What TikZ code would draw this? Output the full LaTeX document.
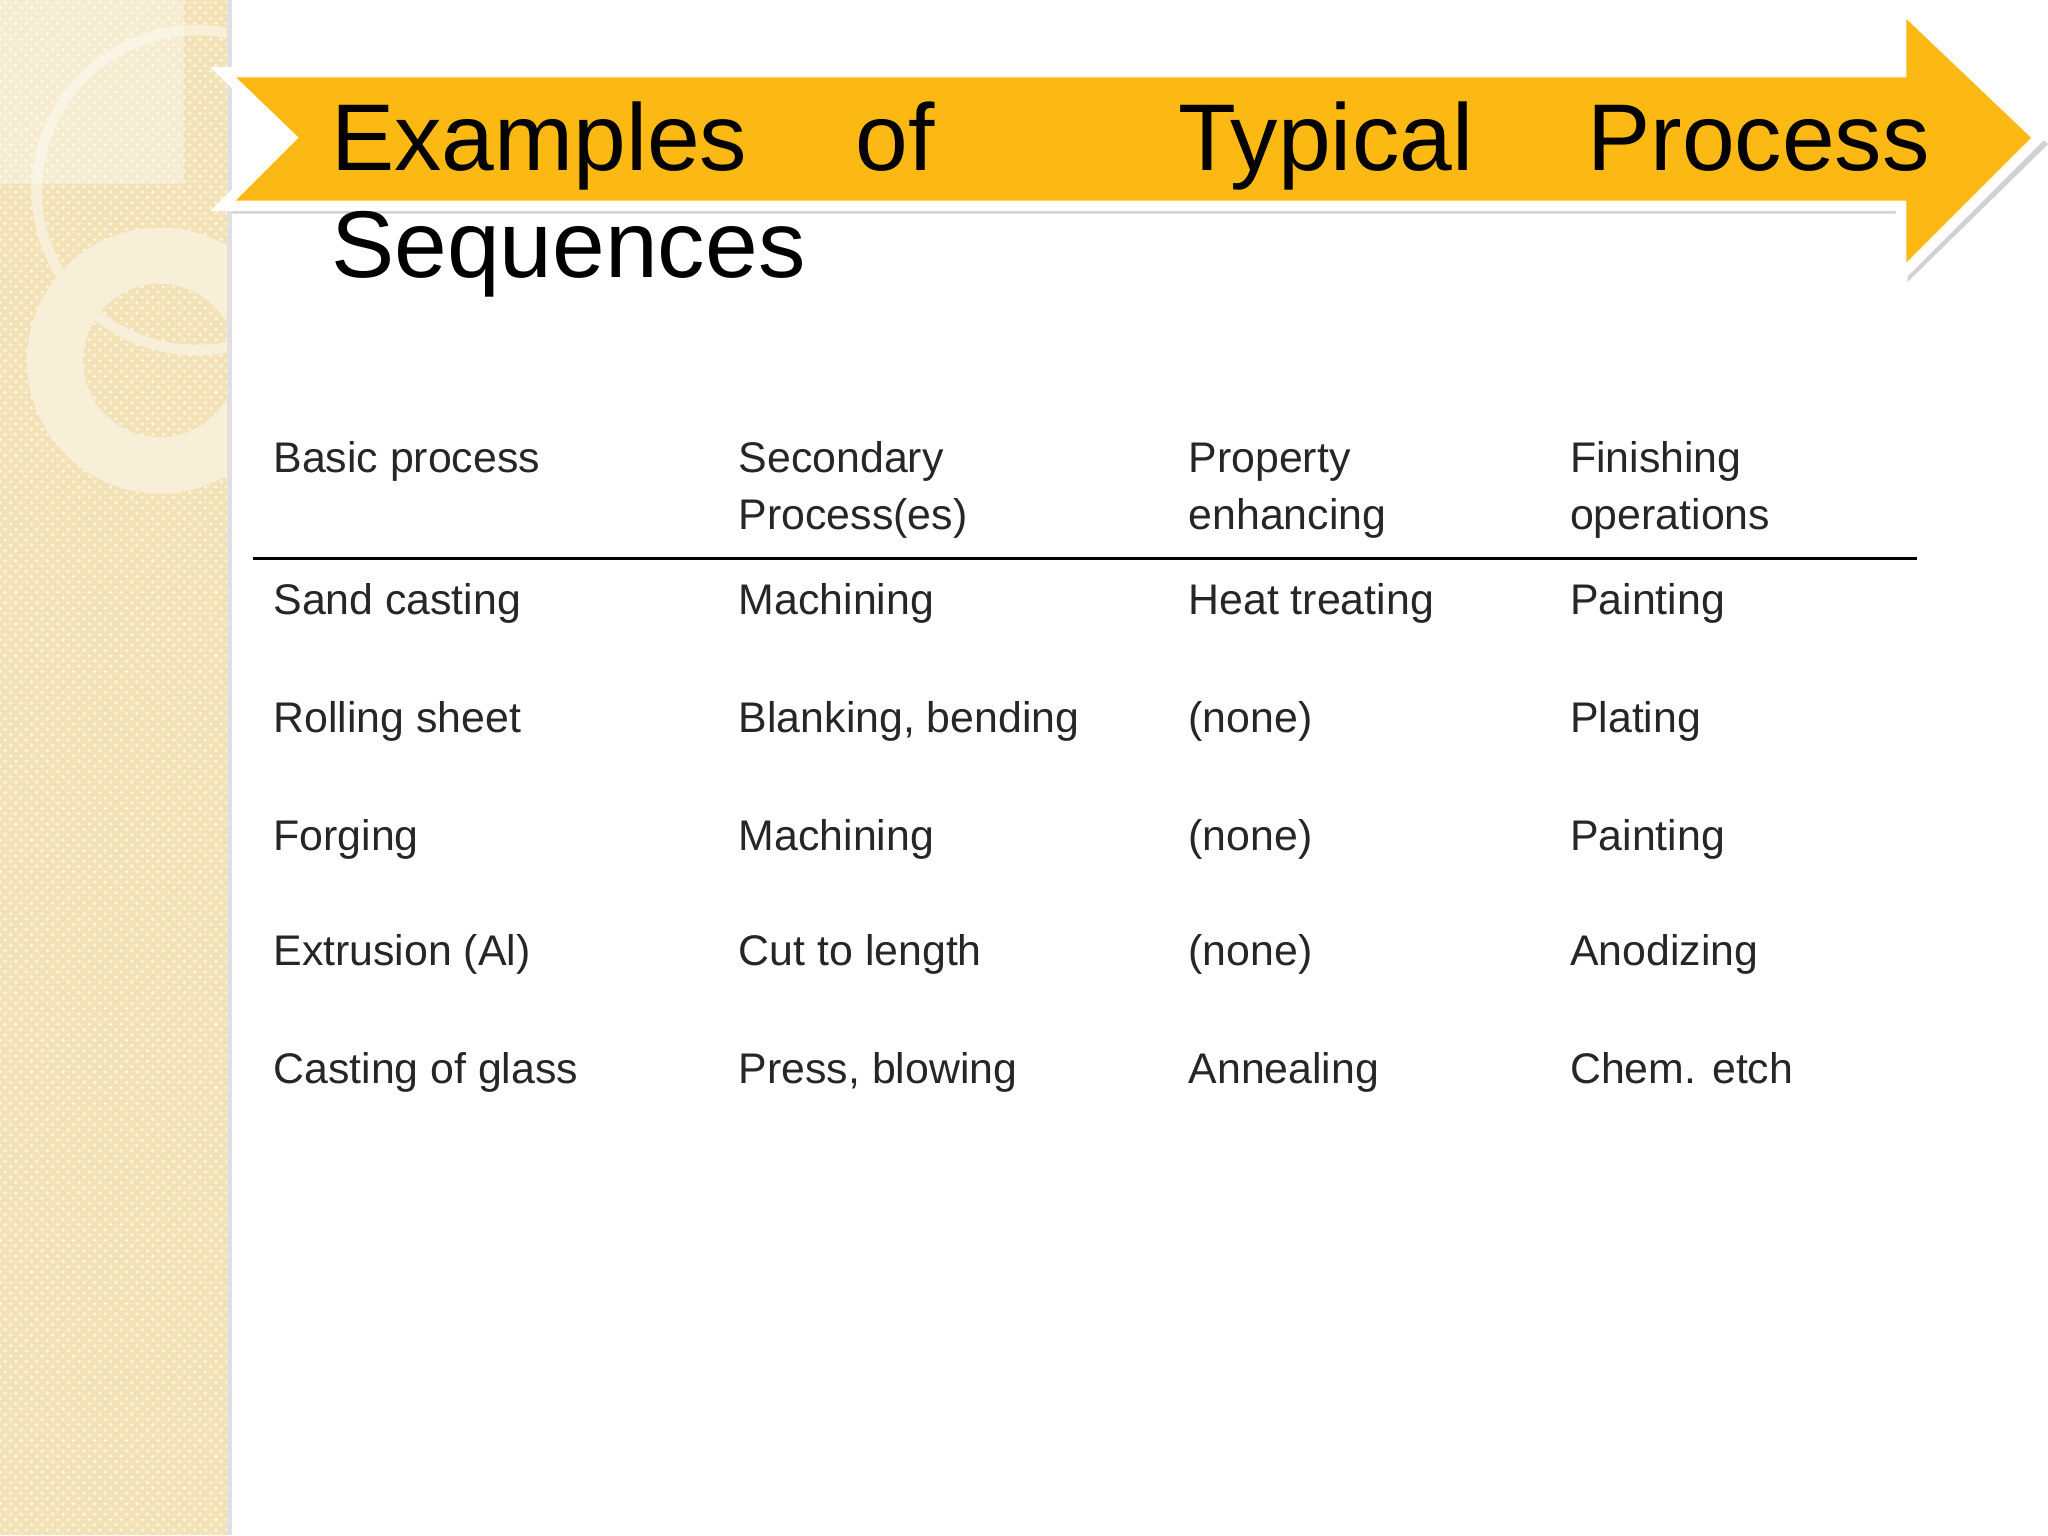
\documentclass[tikz,border=0pt]{standalone}
\usepackage{fontspec}
\setmainfont{Liberation Sans}
\usetikzlibrary{patterns}
\definecolor{strip}{HTML}{F2E2B6}
\definecolor{arr}{HTML}{FDB913}
\definecolor{ring}{HTML}{F8EFD8}
\definecolor{txt}{HTML}{262626}
\begin{document}
\begin{tikzpicture}[x=0.013115cm,y=-0.013115cm,
  cell/.style={anchor=base west,inner sep=0pt,font=\fontsize{12.2}{14.6}\selectfont,text=txt},
  ttl/.style={anchor=base west,inner sep=0pt,font=\fontsize{27}{30}\selectfont,text=black}]
\useasboundingbox (0,0) rectangle (1562,1171);
\fill[white] (0,0) rectangle (1562,1171);
\fill[strip] (0,0) rectangle (173,1171);
\pattern[pattern=crosshatch dots,pattern color=white!70!strip] (0,0) rectangle (173,1171);
\fill[black!12] (173,0) rectangle (177,1171);
\begin{scope}
\clip (0,0) rectangle (173,1171);
\draw[ring,line width=3pt] (150,145) circle (122);
\draw[ring,line width=16pt] (122,275) circle (80);
\fill[white,opacity=0.35] (0,0) rectangle (140,140);
\end{scope}
% arrow
\fill[black!18] (176,60) -- (1455,60) -- (1455,10) -- (1562,110) -- (1455,215) -- (1455,163) -- (176,163) -- (228,110) -- cycle;
\draw[white,line width=3pt,fill=arr] (170,55) -- (1450,55) -- (1450,5) -- (1555,105) -- (1450,210) -- (1450,157) -- (170,157) -- (222,105) -- cycle;
\node[ttl] (t1) at (252,130) {Examples};
\node[ttl] (t2) at (652,130) {of};
\node[ttl] (t3) at (898,130) {Typical};
\node[ttl] (t4) at (1210,130) {Process};
\node[ttl] (t5) at (252,212) {Sequences};
% table
\node[cell] (h1) at (208,360) {Basic process};
\node[cell] (h2) at (563,360) {Secondary};
\node[cell] (h2b) at (563,404) {Process(es)};
\node[cell] (h3) at (906,360) {Property};
\node[cell] (h3b) at (906,404) {enhancing};
\node[cell] (h4) at (1197,360) {Finishing};
\node[cell] (h4b) at (1197,404) {operations};
\coordinate (la) at (193,426);
\coordinate (lb) at (1462,426);
\draw[black,line width=0.9pt] (la) -- (lb);
\node[cell] (a1) at (208,469) {Sand casting};
\node[cell] (a2) at (563,469) {Machining};
\node[cell] (a3) at (906,469) {Heat treating};
\node[cell] (a4) at (1197,469) {Painting};
\node[cell] (b1) at (208,559) {Rolling sheet};
\node[cell] (b2) at (563,559) {Blanking, bending};
\node[cell] (b3) at (906,559) {(none)};
\node[cell] (b4) at (1197,559) {Plating};
\node[cell] (c1) at (208,649) {Forging};
\node[cell] (c2) at (563,649) {Machining};
\node[cell] (c3) at (906,649) {(none)};
\node[cell] (c4) at (1197,649) {Painting};
\node[cell] (d1) at (208,736) {Extrusion (Al)};
\node[cell] (d2) at (563,736) {Cut to length};
\node[cell] (d3) at (906,736) {(none)};
\node[cell] (d4) at (1197,736) {Anodizing};
\node[cell] (e1) at (208,826) {Casting of glass};
\node[cell] (e2) at (563,826) {Press, blowing};
\node[cell] (e3) at (906,826) {Annealing};
\node[cell] (e4) at (1197,826) {Chem. etch};
\end{tikzpicture}
\end{document}
